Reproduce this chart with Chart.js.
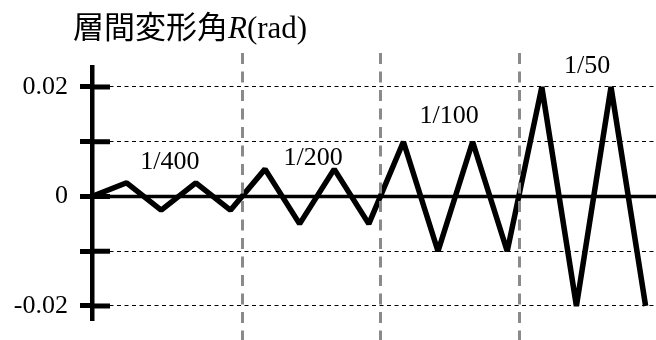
<!DOCTYPE html>
<html>
<head>
<meta charset="utf-8">
<script src="https://cdn.jsdelivr.net/npm/chart.js@4/dist/chart.umd.min.js"></script>
<style>
  html, body { margin: 0; padding: 0; background: #fff; overflow: hidden; }
  #wrap { width: 656px; height: 340px; }
  canvas { display: block; }
</style>
</head>
<body>
<div id="wrap"><canvas id="c" width="656" height="340"></canvas></div>
<script>
// Loading protocol: story drift angle at each half-cycle peak (rad)
const halfCycles = [0, 1, 2, 3, 4, 5, 6, 7, 8, 9, 10, 11, 12, 13, 14, 15, 16];
const drift = [0, 0.0025, -0.0025, 0.0025, -0.0025,
               0.005, -0.005, 0.005, -0.005,
               0.01, -0.01, 0.01, -0.01,
               0.02, -0.02, 0.02, -0.02];

// Amplitude stages and the index of the first point of each stage
const stageLabels = ['1/400', '1/200', '1/100', '1/50'];
const stageStarts = [1, 5, 9, 13];

// Vertical axis ticks
const yTickValues = [-0.02, -0.01, 0, 0.01, 0.02];
const yTickLabels = ['-0.02', '', '0', '', '0.02'];

// Axis title pieces: Japanese text, italic symbol, unit
const titleParts = ['層間変形角', 'R', '(rad)'];

const SERIF = '"Liberation Serif", "Times New Roman", serif';
const CJK = '"Noto Sans CJK JP", "Noto Sans CJK SC", sans-serif';

// Zero crossing between the last point of one stage and the first of the next
function stageBoundary(startIdx) {
  const a = drift[startIdx - 1], b = drift[startIdx];
  return halfCycles[startIdx - 1] + (0 - a) / (b - a) * (halfCycles[startIdx] - halfCycles[startIdx - 1]);
}

const decorations = {
  id: 'decorations',
  beforeDatasetsDraw(chart, args, opts) {
    const { ctx, chartArea, scales: { y } } = chart;
    ctx.save();
    // zero line
    const y0 = y.getPixelForValue(0);
    ctx.strokeStyle = '#000';
    ctx.lineWidth = opts.zeroWidth;
    ctx.beginPath();
    ctx.moveTo(chartArea.left, y0);
    ctx.lineTo(chartArea.right, y0);
    ctx.stroke();
    // tick marks reaching into the plot
    ctx.lineWidth = opts.tickWidth;
    yTickValues.forEach(v => {
      const py = y.getPixelForValue(v);
      ctx.beginPath();
      ctx.moveTo(chartArea.left, py);
      ctx.lineTo(chartArea.left + opts.innerTick, py);
      ctx.stroke();
    });
    ctx.restore();
  },
  afterDatasetsDraw(chart, args, opts) {
    const { ctx, scales: { x, y } } = chart;
    ctx.save();
    ctx.strokeStyle = opts.stageColor;
    ctx.lineWidth = opts.stageWidth;
    ctx.setLineDash(opts.stageDash);
    const top = y.getPixelForValue(opts.stageTop);
    stageStarts.slice(1).forEach(idx => {
      const px = Math.round(x.getPixelForValue(stageBoundary(idx))) + 0.5;
      ctx.beginPath();
      ctx.moveTo(px, top);
      ctx.lineTo(px, chart.height);
      ctx.stroke();
    });
    ctx.restore();
  },
  afterDraw(chart, args, opts) {
    const { ctx, scales: { x, y } } = chart;
    ctx.save();
    ctx.fillStyle = '#000';
    // stage labels
    ctx.font = `${opts.labelSize}px ${SERIF}`;
    ctx.textAlign = 'center';
    ctx.textBaseline = 'alphabetic';
    stageLabels.forEach((t, i) => {
      const a = opts.labelAnchors[i];
      ctx.fillText(t, x.getPixelForValue(a.x), y.getPixelForValue(a.y));
    });
    // axis title
    ctx.textAlign = 'left';
    let tx = opts.titleX;
    const ty = opts.titleBaseline;
    ctx.font = `${opts.titleSize}px ${CJK}`;
    ctx.fillText(titleParts[0], tx, ty);
    tx += ctx.measureText(titleParts[0]).width;
    ctx.font = `italic ${opts.titleSize}px ${SERIF}`;
    ctx.fillText(titleParts[1], tx, ty);
    tx += ctx.measureText(titleParts[1]).width;
    ctx.font = `${opts.titleSize}px ${SERIF}`;
    ctx.fillText(titleParts[2], tx, ty);
    ctx.restore();
  }
};

new Chart(document.getElementById('c'), {
  type: 'line',
  data: {
    datasets: [{
      data: drift.map((v, i) => ({ x: halfCycles[i], y: v })),
      borderColor: '#000',
      borderWidth: 5.5,
      borderJoinStyle: 'bevel',
      pointRadius: 0,
      tension: 0,
      fill: false
    }]
  },
  options: {
    responsive: false,
    devicePixelRatio: 1,
    animation: false,
    layout: { padding: { left: 0, right: 0, top: 67, bottom: 20 } },
    plugins: {
      legend: { display: false },
      tooltip: { enabled: false },
      decorations: {
        zeroWidth: 3.5,
        tickWidth: 5,
        innerTick: 18,
        stageColor: '#8a8a8a',
        stageWidth: 3,
        stageDash: [11, 7.5],
        stageTop: 0.0262,
        labelSize: 26,
        labelAnchors: [
          { x: 2.25, y: 0.0050 },
          { x: 6.39, y: 0.00575 },
          { x: 10.32, y: 0.01342 },
          { x: 14.31, y: 0.02256 }
        ],
        titleX: 73,
        titleBaseline: 38,
        titleSize: 31
      }
    },
    scales: {
      x: {
        type: 'linear',
        display: false,
        min: 0,
        max: 16.3
      },
      y: {
        type: 'linear',
        min: -0.02256,
        max: 0.02365,
        afterFit(s) {
          s.width = 92;
          s.paddingTop = 0;
          s.paddingBottom = 0;
        },
        afterBuildTicks(s) { s.ticks = yTickValues.map(v => ({ value: v })); },
        ticks: {
          autoSkip: false,
          padding: 12,
          color: '#000',
          font: { family: SERIF, size: 26 },
          callback: (v, i) => yTickLabels[i]
        },
        grid: {
          color: '#000',
          lineWidth: 1,
          drawTicks: true,
          tickLength: 12,
          tickWidth: 5,
          tickColor: '#000'
        },
        border: {
          display: true,
          color: '#000',
          width: 4.5,
          dash: [4, 3.5]
        }
      }
    }
  },
  plugins: [decorations]
});
</script>
</body>
</html>
